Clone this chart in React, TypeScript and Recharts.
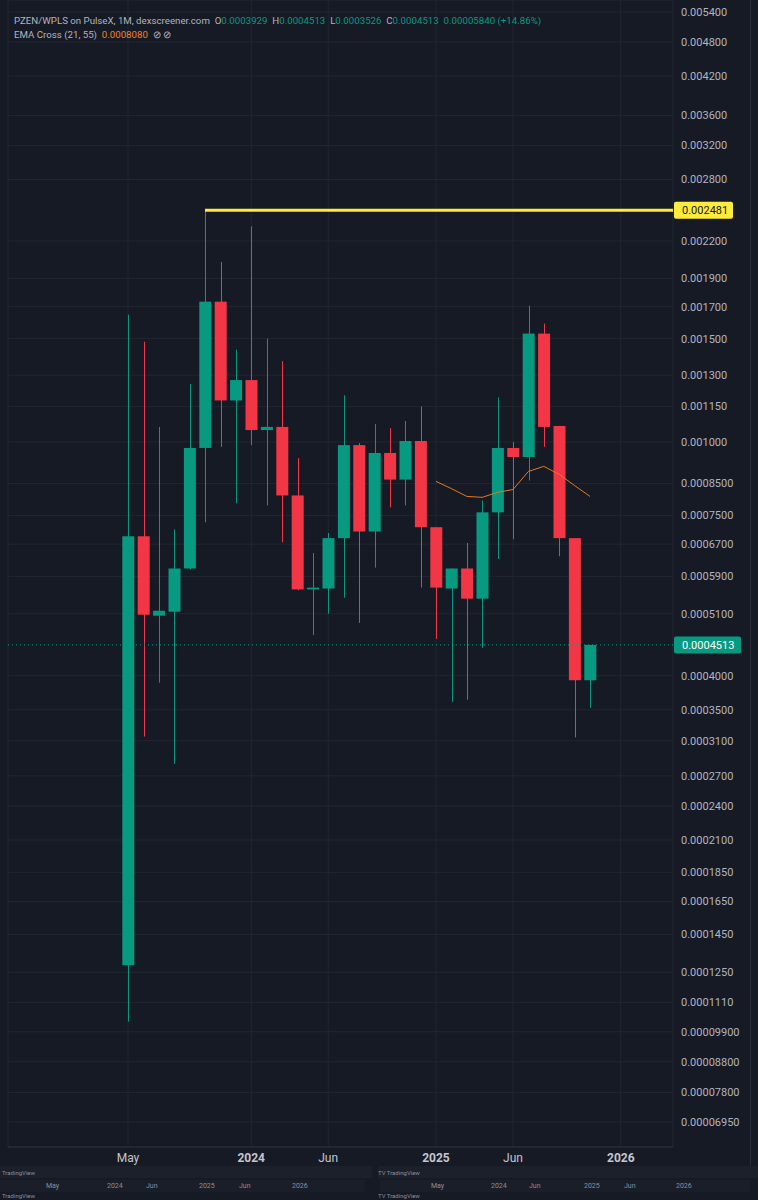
import React from 'react';
import { ComposedChart, Bar, Line, XAxis, YAxis, CartesianGrid, ReferenceLine } from 'recharts';

// monthly candles, May 2023 .. Nov 2025
const months = [
  '2023-05', '2023-06', '2023-07', '2023-08', '2023-09', '2023-10', '2023-11', '2023-12',
  '2024-01', '2024-02', '2024-03', '2024-04', '2024-05', '2024-06', '2024-07', '2024-08',
  '2024-09', '2024-10', '2024-11', '2024-12', '2025-01', '2025-02', '2025-03', '2025-04',
  '2025-05', '2025-06', '2025-07', '2025-08', '2025-09', '2025-10', '2025-11',
];
const opens = [
  0.0001285, 0.000691, 0.000506, 0.000514, 0.000609, 0.000977, 0.001734, 0.001177,
  0.001275, 0.001048, 0.001061, 0.000811, 0.000561, 0.000563, 0.000686, 0.000988,
  0.000704, 0.000958, 0.000863, 0.001004, 0.000716, 0.000563, 0.000609, 0.000541,
  0.000759, 0.000977, 0.000943, 0.00153, 0.001065, 0.000686, 0.0003929,
];
const highs = [
  0.001648, 0.001482, 0.001061, 0.00071, 0.001255, 0.002481, 0.002026, 0.001437,
  0.00233, 0.0015, 0.001373, 0.000939, 0.000647, 0.0007, 0.001201, 0.000996,
  0.001073, 0.001056, 0.001086, 0.00115, 0.000716, 0.000609, 0.000673, 0.000795,
  0.001191, 0.001, 0.001707, 0.001591, 0.001065, 0.000686, 0.0004513,
];
const lows = [
  0.000103, 0.000315, 0.000389, 0.000283, 0.000607, 0.00073, 0.000981, 0.000786,
  0.000988, 0.00078, 0.000675, 0.000559, 0.000469, 0.00051, 0.000543, 0.000492,
  0.000611, 0.000774, 0.00078, 0.000565, 0.000462, 0.000361, 0.000364, 0.000446,
  0.000632, 0.000683, 0.00086, 0.000981, 0.000639, 0.000314, 0.0003526,
];
const closes = [
  0.000691, 0.000508, 0.000516, 0.000609, 0.000977, 0.001734, 0.001177, 0.001275,
  0.001048, 0.001061, 0.000811, 0.000561, 0.000565, 0.000686, 0.000988, 0.000704,
  0.000958, 0.000863, 0.001004, 0.000716, 0.000565, 0.000609, 0.000541, 0.000759,
  0.000977, 0.000943, 0.00153, 0.001061, 0.000686, 0.0003929, 0.0004513,
];
const ema = [
  null, null, null, null, null, null, null, null, null, null,
  null, null, null, null, null, null, null, null, null, null,
  0.000857, 0.000833, 0.000808, 0.000805, 0.000821, 0.00083, 0.000891, 0.000909,
  0.000881, 0.000843, 0.000808,
];

const xTicks = [0, 8, 13, 20, 25, 32];
const xTickLabels = ['May', '2024', 'Jun', '2025', 'Jun', '2026'];
const yTicks = [
  0.0054, 0.0048, 0.0042, 0.0036, 0.0032, 0.0028, 0.0022, 0.0019, 0.0017, 0.0015,
  0.0013, 0.00115, 0.001, 0.00085, 0.00075, 0.00067, 0.00059, 0.00051, 0.0004, 0.00035,
  0.00031, 0.00027, 0.00024, 0.00021, 0.000185, 0.000165, 0.000145, 0.000125, 0.000111,
  0.000099, 0.000088, 0.000078, 0.0000695,
];
const athLevel = 0.002481;
const lastClose = 0.0004513;

const UP = '#089981';
const DOWN = '#f23645';
const BG = '#161a25';
const GRID = '#222632';
const TEXT = '#b2b5be';
const FONT = 'Roboto, "Noto Sans", sans-serif';

const rows = months.map((m, i) => ({
  i,
  month: m,
  open: opens[i],
  high: highs[i],
  low: lows[i],
  close: closes[i],
  range: [lows[i], highs[i]],
  ema: ema[i],
}));

const Candle = (props: any) => {
  const { x, y, width, height, payload } = props;
  const { open, close, high, low } = payload;
  const color = close >= open ? UP : DOWN;
  const span = Math.log(high) - Math.log(low);
  const toY = (v: number) => (span === 0 ? y : y + (height * (Math.log(high) - Math.log(v))) / span);
  const top = toY(Math.max(open, close));
  const bottom = toY(Math.min(open, close));
  const cx = Math.round(x + width / 2) + 0.5;
  return (
    <g>
      <line x1={cx} x2={cx} y1={y} y2={y + height} stroke={color} strokeWidth={1} />
      <rect x={x} y={top} width={width} height={Math.max(1, bottom - top)} fill={color} />
    </g>
  );
};

const TimeTick = (props: any) => {
  const { x, payload } = props;
  const label = xTickLabels[xTicks.indexOf(payload.value)];
  const bold = /^\d{4}$/.test(label);
  return (
    <text x={x} y={1162} textAnchor="middle" fill="#c3c6ce" fontSize={12} fontWeight={bold ? 700 : 400} fontFamily={FONT}>
      {label}
    </text>
  );
};

const PriceTag = (props: any) => {
  const { viewBox, text, bg, fg, w } = props;
  if (!viewBox) return null;
  const left = viewBox.x + viewBox.width + 1;
  const y = viewBox.y;
  return (
    <g>
      <rect x={left} y={y - 8.5} width={w} height={17} rx={2} fill={bg} />
      <text x={left + 8} y={y + 4} fill={fg} fontSize={11} fontFamily={FONT}>
        {text}
      </text>
    </g>
  );
};

const Header = () => (
  <div style={{ position: 'absolute', left: 14, top: 14, fontFamily: FONT, fontSize: 9.7, color: TEXT, lineHeight: '13.5px', whiteSpace: 'nowrap' }}>
    <div>
      PZEN/WPLS on PulseX, 1M, dexscreener.com&nbsp;&nbsp;O<span style={{ color: UP }}>0.0003929</span>&nbsp;&nbsp;H
      <span style={{ color: UP }}>0.0004513</span>&nbsp;&nbsp;L<span style={{ color: UP }}>0.0003526</span>&nbsp;&nbsp;C
      <span style={{ color: UP }}>0.0004513</span>&nbsp;&nbsp;<span style={{ color: UP }}>0.00005840 (+14.86%)</span>
    </div>
    <div>
      EMA Cross (21, 55)&nbsp;&nbsp;<span style={{ color: '#f0822a' }}>0.0008080</span>&nbsp;&nbsp;⊘&nbsp;⊘
    </div>
  </div>
);

const miniLabels = ['May', '2024', 'Jun', '2025', 'Jun', '2026'];
const miniLeft = [52, 113, 152, 205, 245, 298];
const miniRight = [437, 497, 535, 590, 630, 682];

const BottomStrip = () => (
  <div style={{ position: 'absolute', left: 0, top: 1166, width: 758, height: 34, fontFamily: FONT, color: '#8a8e99', lineHeight: '7px' }}>
    <div style={{ position: 'absolute', left: 0, top: 0, width: 372, height: 12, background: '#1c202b' }} />
    <div style={{ position: 'absolute', left: 378, top: 0, width: 380, height: 12, background: '#1c202b' }} />
    <div style={{ position: 'absolute', left: 0, top: 14, width: 365, height: 12, background: '#1a1e29' }} />
    <div style={{ position: 'absolute', left: 380, top: 14, width: 370, height: 12, background: '#1a1e29' }} />
    <div style={{ position: 'absolute', left: 2, top: 3, fontSize: 6 }}>TradingView</div>
    <div style={{ position: 'absolute', left: 378, top: 3, fontSize: 6 }}>TV TradingView</div>
    <div style={{ position: 'absolute', left: 2, top: 26, fontSize: 6 }}>TradingView</div>
    <div style={{ position: 'absolute', left: 378, top: 26, fontSize: 6 }}>TV TradingView</div>
    {miniLabels.map((t, k) => (
      <div key={'l' + k} style={{ position: 'absolute', left: miniLeft[k] - 6, top: 17, fontSize: 7 }}>{t}</div>
    ))}
    {miniLabels.map((t, k) => (
      <div key={'r' + k} style={{ position: 'absolute', left: miniRight[k] - 6, top: 17, fontSize: 7 }}>{t}</div>
    ))}
  </div>
);

export default function App() {
  return (
    <div style={{ position: 'absolute', left: 0, top: 0, width: 758, height: 1200, background: BG, overflow: 'hidden' }}>
      <ComposedChart width={758} height={1166} data={rows} margin={{ top: 0, right: 0, left: 8, bottom: 0 }}>
        <CartesianGrid stroke={GRID} strokeWidth={1} />
        <XAxis
          dataKey="i"
          type="number"
          domain={[-7.792, 35.39]}
          allowDataOverflow
          ticks={xTicks}
          tick={<TimeTick />}
          tickLine={false}
          axisLine={{ stroke: '#2a2e39' }}
          height={19}
          interval={0}
        />
        <YAxis
          orientation="right"
          scale="log"
          type="number"
          domain={[0.000063, 0.00566]}
          allowDataOverflow
          ticks={yTicks}
          interval={0}
          width={85}
          tickSize={0}
          tickMargin={8}
          axisLine={false}
          tick={{ fill: TEXT, fontSize: 11, fontFamily: FONT, textAnchor: 'start' }}
          tickFormatter={(v: number) => v.toPrecision(4)}
        />
        <ReferenceLine
          y={lastClose}
          stroke={UP}
          strokeDasharray="1 3"
          strokeWidth={1}
          label={<PriceTag text="0.0004513" bg={UP} fg="#ffffff" w={67} />}
        />
        <ReferenceLine
          y={athLevel}
          stroke="none"
          strokeOpacity={0}
          label={<PriceTag text="0.002481" bg="#ffeb3b" fg="#131722" w={59} />}
        />
        <Bar dataKey="range" barSize={12} shape={<Candle />} isAnimationActive={false} />
        <Line dataKey="ema" stroke="#e8771e" strokeWidth={1} dot={false} isAnimationActive={false} connectNulls={false} />
        <ReferenceLine
          segment={[{ x: 5, y: athLevel }, { x: 35.39, y: athLevel }]}
          stroke="#ffeb3b"
          strokeWidth={3}
        />
      </ComposedChart>
      <div style={{ position: 'absolute', left: 750, top: 0, width: 1, height: 1166, background: '#2a2e39' }} />
      <Header />
      <BottomStrip />
    </div>
  );
}
